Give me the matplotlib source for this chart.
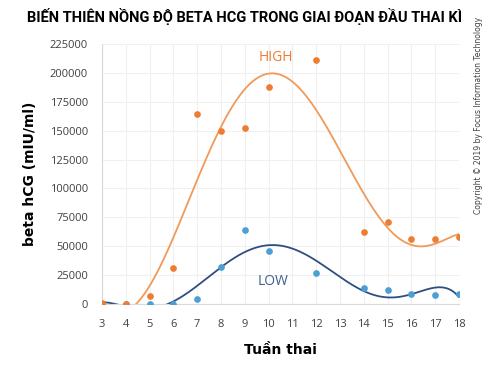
import numpy as np
import matplotlib.pyplot as plt

# tuần thai và nồng độ beta hCG
weeks_high = [3, 4, 5, 6, 7, 8, 9, 10, 12, 14, 15, 16, 17, 18]
high = [500, 0, 7000, 31000, 164000, 150000, 152000, 188000, 211000, 62500, 71000, 56000, 56000, 58000]
weeks_low = [3, 4, 5, 6, 7, 8, 9, 10, 12, 14, 15, 16, 17, 18]
low = [0, 0, 0, 0, 4000, 32000, 64000, 46000, 27000, 14000, 12000, 8500, 8000, 8500]
xticks = list(range(3, 19))
yticks = list(range(0, 225001, 25000))

c_high = '#ED7D31'
c_high_line = '#F09A5A'
c_low = '#4A9FD4'
c_low_line = '#2F4F7F'
c_text = '#404040'

fig = plt.figure(figsize=(5, 3.66), dpi=100)
ax = fig.add_axes([0.204, 0.1694, 0.714, 0.7104])

# đường xu hướng đa thức bậc 6 giống Excel
xs = np.linspace(3, 18, 400)
p_high = np.polyfit(weeks_high, high, 6)
p_low = np.polyfit(weeks_low, low, 6)
ax.plot(xs, np.polyval(p_low, xs), color=c_low_line, lw=1.3, zorder=2)
ax.plot(xs, np.polyval(p_high, xs), color=c_high_line, lw=1.3, zorder=2)

ax.plot(weeks_low, low, 'o', color=c_low, ms=3.8, zorder=3)
ax.plot(weeks_high, high, 'o', color=c_high, ms=3.8, zorder=4)

ax.text(10.3, 213000, 'HIGH', color=c_high, fontsize=10, ha='center', va='center', family='Open Sans')
ax.text(10.2, 19500, 'LOW', color='#3E5F8F', fontsize=10, ha='center', va='center', family='Open Sans')

ax.set_xlim(3, 18)
ax.set_ylim(0, 225000)
ax.set_xticks(xticks)
ax.set_yticks(yticks)
ax.tick_params(length=0, labelsize=8, labelcolor=c_text)
ax.tick_params(axis='y', pad=10)
ax.tick_params(axis='x', pad=11)
for lab in ax.get_xticklabels() + ax.get_yticklabels():
    lab.set_family('Open Sans')
ax.grid(True, color='#F0F0F0', lw=0.8)
ax.set_axisbelow(True)
for s in ['top', 'right']:
    ax.spines[s].set_visible(False)
ax.spines['left'].set_color('#D9D9D9')
ax.spines['bottom'].set_color('#D9D9D9')

ax.set_xlabel('Tuần thai', fontsize=10, fontweight='bold', color='black', labelpad=9)
ax.set_ylabel('beta hCG (mIU/ml)', fontsize=10, fontweight='bold', color='black', labelpad=9)

fig.text(0.49, 0.955, 'BIẾN THIÊN NỒNG ĐỘ BETA HCG TRONG GIAI ĐOẠN ĐẦU THAI KÌ',
         ha='center', va='center', fontsize=10.5, fontweight='bold', family='Roboto')
fig.text(0.957, 0.685, 'Copyright © 2019 by Focus Information Technology', rotation=90,
         ha='center', va='center', fontsize=5.5, color=c_text)

fig.savefig('out.png', dpi=100)
